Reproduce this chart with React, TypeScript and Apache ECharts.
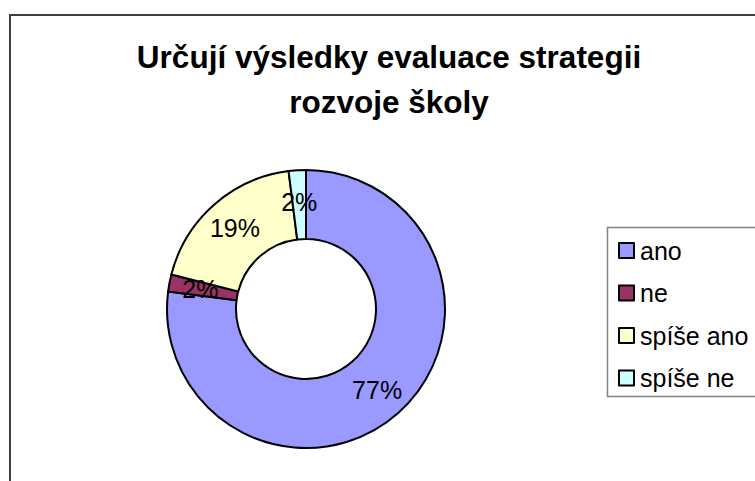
import React, { useEffect, useRef } from "react";
import * as echarts from "echarts";

const titleText = "Určují výsledky evaluace strategii\nrozvoje školy";
const categories = ["ano", "ne", "spíše ano", "spíše ne"];
const values = [77, 2, 19, 2];
const colors = ["#9999FF", "#993366", "#FFFFCC", "#CCFFFF"];

const FONT = "'Liberation Sans', Arial, sans-serif";

export default function App() {
  const ref = useRef<HTMLDivElement>(null);
  useEffect(() => {
    if (!ref.current) return;
    const chart = echarts.init(ref.current, undefined, { renderer: "svg" });
    chart.setOption({
      animation: false,
      backgroundColor: "#ffffff",
      title: {
        text: titleText,
        left: 389,
        textAlign: "center",
        top: 34,
        padding: 0,
        textStyle: {
          fontFamily: FONT,
          fontSize: 31.5,
          fontWeight: "bold",
          color: "#000000",
          lineHeight: 45,
        },
      },
      graphic: [
        {
          type: "rect",
          shape: { x: 10, y: 15, width: 760, height: 480 },
          style: { fill: "none", stroke: "#404040", lineWidth: 2 },
          silent: true,
        },
        {
          type: "rect",
          shape: { x: 607.5, y: 227.5, width: 170, height: 169 },
          style: { fill: "none", stroke: "#808080", lineWidth: 1.5 },
          silent: true,
        },
      ],
      legend: {
        orient: "vertical",
        left: 618,
        top: 238,
        padding: 0,
        itemWidth: 15,
        itemHeight: 15,
        itemGap: 17.5,
        icon: "rect",
        data: categories,
        itemStyle: { borderColor: "#000000", borderWidth: 2 },
        textStyle: {
          fontFamily: FONT,
          fontSize: 25,
          color: "#000000",
          lineHeight: 24,
          padding: [0, 0, 0, 1],
        },
      },
      series: [
        {
          type: "pie",
          center: [306, 309],
          radius: [70, 139],
          startAngle: 90,
          clockwise: true,
          avoidLabelOverlap: false,
          label: {
            show: true,
            position: "inside",
            formatter: "{d}%",
            fontFamily: FONT,
            fontSize: 25,
            color: "#000000",
          },
          labelLine: { show: false },
          itemStyle: { borderColor: "#000000", borderWidth: 2 },
          emphasis: { disabled: true },
          data: categories.map((c, i) => ({
            name: c,
            value: values[i],
            itemStyle: { color: colors[i] },
          })),
        },
      ],
    });
    return () => chart.dispose();
  }, []);
  return (
    <div
      ref={ref}
      style={{ position: "fixed", left: 0, top: 0, width: 755, height: 481 }}
    />
  );
}
